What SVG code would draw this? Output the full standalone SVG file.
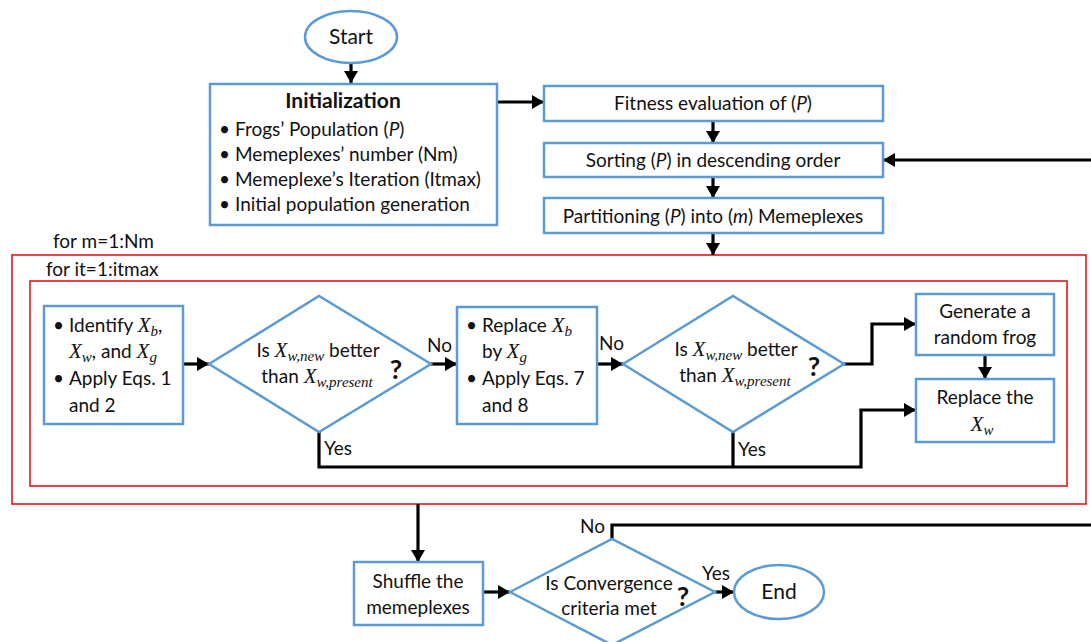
<svg xmlns="http://www.w3.org/2000/svg" width="1091" height="642" viewBox="0 0 1091 642">
<defs>
<style>
.t{font-family:Lato,"Liberation Sans",sans-serif;font-size:19px;fill:#111}
.b{font-weight:bold}
.m{font-family:"Liberation Serif","DejaVu Serif",serif;font-style:italic;font-size:21px}
.s{font-family:"Liberation Serif","DejaVu Serif",serif;font-style:italic;font-size:15px}
.q{font-family:Lato,"Liberation Sans",sans-serif;font-weight:bold;font-size:27px;fill:#111}
.box{fill:#fff;stroke:#5B9BD5;stroke-width:2.5}
.red{fill:none;stroke:#E8141B;stroke-width:1.6}
.c{fill:none;stroke:#000;stroke-width:3.2}
.ca{fill:none;stroke:#000;stroke-width:3.2;marker-end:url(#ah)}
</style>
<marker id="ah" markerUnits="userSpaceOnUse" markerWidth="12" markerHeight="14" refX="12" refY="7" orient="auto">
<path d="M0,0 L12,7 L0,14 z" fill="#000"/>
</marker>
</defs>
<rect width="1091" height="642" fill="#fff"/>

<g id="loops">
<rect class="red" x="12" y="255" width="1074" height="249"/>
<rect class="red" x="30" y="281" width="1037" height="205"/>
<text class="t" x="53" y="248">for m=1:Nm</text>
<text class="t" x="46" y="276">for it=1:itmax</text>
</g>

<g id="connectors">
<line class="ca" x1="351" y1="63" x2="351" y2="83"/>
<line class="ca" x1="497" y1="102" x2="544" y2="102"/>
<line class="ca" x1="713" y1="121" x2="713" y2="143"/>
<line class="ca" x1="713" y1="177" x2="713" y2="198"/>
<line class="ca" x1="713" y1="233" x2="713" y2="255"/>
<line class="ca" x1="1091" y1="160" x2="883" y2="160"/>
<line class="ca" x1="183" y1="364" x2="209" y2="364"/>
<line class="ca" x1="431" y1="364" x2="457" y2="364"/>
<line class="ca" x1="597" y1="364" x2="623" y2="364"/>
<polyline class="ca" points="844,364 872,364 872,324 916,324"/>
<line class="ca" x1="985" y1="355" x2="985" y2="379"/>
<polyline class="ca" points="319,432 319,467 861,467 861,410 916,410"/>
<line class="c" x1="733" y1="432" x2="733" y2="467"/>
<line class="ca" x1="418" y1="504" x2="418" y2="562"/>
<line class="ca" x1="483" y1="592" x2="510" y2="592"/>
<polyline class="c" points="612,539 612,525 1091,525"/>
<line class="ca" x1="715" y1="592" x2="734" y2="592"/>
<text class="t" x="427" y="352">No</text>
<text class="t" x="599" y="350">No</text>
<text class="t" x="324" y="455">Yes</text>
<text class="t" x="738" y="456">Yes</text>
<text class="t" x="580" y="533">No</text>
<text class="t" x="702" y="580">Yes</text>
</g>

<g id="start">
<ellipse class="box" cx="351" cy="37" rx="46" ry="26"/>
<text class="t" x="351" y="44" text-anchor="middle" style="font-size:21px">Start</text>
</g>

<g id="init">
<rect class="box" x="210" y="84" width="287" height="141"/>
<text class="t b" x="343" y="108" text-anchor="middle" style="font-size:21px">Initialization</text>
<text class="t"><tspan x="219" y="136">•</tspan><tspan x="235" y="136">Frogs’ Population (<tspan style="font-style:italic">P</tspan>)</tspan></text>
<text class="t"><tspan x="219" y="161">•</tspan><tspan x="235" y="161">Memeplexes’ number (Nm)</tspan></text>
<text class="t"><tspan x="219" y="186">•</tspan><tspan x="235" y="186">Memeplexe’s Iteration (Itmax)</tspan></text>
<text class="t"><tspan x="219" y="211">•</tspan><tspan x="235" y="211">Initial population generation</tspan></text>
</g>

<g id="fitness">
<rect class="box" x="544" y="86" width="339" height="35"/>
<text class="t" x="713" y="110" text-anchor="middle">Fitness evaluation of (<tspan style="font-style:italic">P</tspan>)</text>
</g>

<g id="sorting">
<rect class="box" x="544" y="143" width="339" height="34"/>
<text class="t" x="713" y="167" text-anchor="middle">Sorting (<tspan style="font-style:italic">P</tspan>) in descending order</text>
</g>

<g id="partition">
<rect class="box" x="544" y="198" width="339" height="35"/>
<text class="t" x="713" y="223" text-anchor="middle">Partitioning (<tspan style="font-style:italic">P</tspan>) into (<tspan style="font-style:italic">m</tspan>) Memeplexes</text>
</g>

<g id="identify">
<rect class="box" x="44" y="306" width="139" height="118"/>
<text class="t"><tspan x="53" y="332">•</tspan><tspan x="69" y="332">Identify </tspan><tspan class="m">X</tspan><tspan class="s" dy="4">b</tspan><tspan dy="-4">,</tspan></text>
<text class="t"><tspan class="m" x="69" y="358">X</tspan><tspan class="s" dy="4">w</tspan><tspan dy="-4">, and </tspan><tspan class="m">X</tspan><tspan class="s" dy="4">g</tspan></text>
<text class="t"><tspan x="53" y="385">•</tspan><tspan x="69" y="385">Apply Eqs. 1</tspan></text>
<text class="t" x="69" y="412">and 2</text>
</g>

<g id="decision1">
<polygon class="box" points="209,364 319,296 431,364 319,432"/>
<text class="t" x="318" y="357" text-anchor="middle">Is <tspan class="m">X</tspan><tspan class="s" dy="4">w,new</tspan><tspan dy="-4"> better</tspan></text>
<text class="t" x="317" y="383" text-anchor="middle">than <tspan class="m">X</tspan><tspan class="s" dy="4">w,present</tspan></text>
<text class="q" x="396" y="379" text-anchor="middle">?</text>
</g>

<g id="replaceb">
<rect class="box" x="457" y="307" width="140" height="117"/>
<text class="t"><tspan x="466" y="332">•</tspan><tspan x="482" y="332">Replace </tspan><tspan class="m">X</tspan><tspan class="s" dy="4">b</tspan></text>
<text class="t"><tspan x="482" y="358">by </tspan><tspan class="m">X</tspan><tspan class="s" dy="4">g</tspan></text>
<text class="t"><tspan x="466" y="385">•</tspan><tspan x="482" y="385">Apply Eqs. 7</tspan></text>
<text class="t" x="482" y="412">and 8</text>
</g>

<g id="decision2">
<polygon class="box" points="623,364 733,296 844,364 733,432"/>
<text class="t" x="736" y="356" text-anchor="middle">Is <tspan class="m">X</tspan><tspan class="s" dy="4">w,new</tspan><tspan dy="-4"> better</tspan></text>
<text class="t" x="735" y="382" text-anchor="middle">than <tspan class="m">X</tspan><tspan class="s" dy="4">w,present</tspan></text>
<text class="q" x="814" y="376" text-anchor="middle">?</text>
</g>

<g id="generate">
<rect class="box" x="916" y="294" width="138" height="61"/>
<text class="t" x="985" y="318" text-anchor="middle">Generate a</text>
<text class="t" x="985" y="344" text-anchor="middle">random frog</text>
</g>

<g id="replacew">
<rect class="box" x="916" y="379" width="138" height="63"/>
<text class="t" x="985" y="404" text-anchor="middle">Replace the</text>
<text class="t" x="982" y="431" text-anchor="middle"><tspan class="m">X</tspan><tspan class="s" dy="4">w</tspan></text>
</g>

<g id="shuffle">
<rect class="box" x="354" y="562" width="129" height="63"/>
<text class="t" x="418" y="588" text-anchor="middle">Shuffle the</text>
<text class="t" x="418" y="614" text-anchor="middle">memeplexes</text>
</g>

<g id="decision3">
<polygon class="box" points="510,592 612,539 715,592 612,645"/>
<text class="t" x="609" y="590" text-anchor="middle">Is Convergence</text>
<text class="t" x="609" y="615" text-anchor="middle">criteria met</text>
<text class="q" x="683" y="606" text-anchor="middle">?</text>
</g>

<g id="end">
<ellipse class="box" cx="779" cy="592" rx="45" ry="27"/>
<text class="t" x="779" y="599" text-anchor="middle" style="font-size:21px">End</text>
</g>
</svg>
